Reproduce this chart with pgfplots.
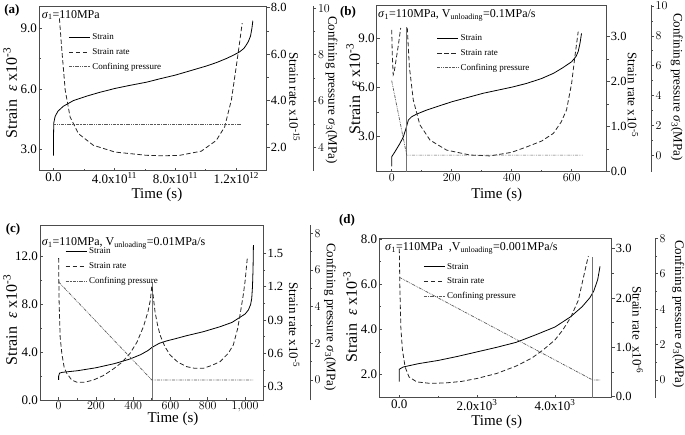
\documentclass[border=0pt]{standalone}
\usepackage{fontspec}
\setmainfont{Liberation Serif}
\usepackage{pgfplots}
\pgfplotsset{compat=1.18}
\newcommand\fs[1]{\fontsize{#1}{#1}\selectfont}
\definecolor{axc}{gray}{0.3}
\newcommand\strainlab{Strain\ \ \textit{ε}\ x10\textsuperscript{-3}}
\pgfplotsset{
  base/.style={scale only axis, anchor=south west,
    axis line style={axc, line width=0.9pt},
    tick style={axc, line width=0.7pt},
    major tick length=3pt, minor tick length=1.8pt,
    tick label style={font=\fs{13}},
    label style={font=\fs{15}},
  },
  strainstyle/.style={black, solid, line width=0.8pt},
  ratestyle/.style={black!85, dash pattern=on 4.5pt off 2.5pt, line width=0.8pt},
  confstyle/.style={black!65, dash pattern=on 3pt off 1pt on 0.7pt off 1pt on 0.7pt off 1pt, line width=0.7pt},
  vstyle/.style={black!55, line width=0.5pt},
  mainax/.style={base, tick align=inside, xtick pos=left, ytick pos=left,
    minor x tick num=1, minor y tick num=1,
    xticklabel style={inner ysep=2pt},
    yticklabel style={inner xsep=2pt},
    legend style={draw=none, fill=none, font=\fs{9}, anchor=north west, inner sep=0pt, row sep=3.2pt},
    legend cell align=left,
    legend image code/.code={\draw[##1] (0pt,0pt) -- (21pt,0pt);},
    xlabel style={anchor=center}, ylabel style={anchor=center, font=\fs{16}}},
  rateax/.style={base, axis y line*=right, axis x line=none, xtick=\empty, tick align=outside, minor y tick num=1,
    yticklabel style={inner xsep=1pt, font=\fs{12.5}},
    ylabel style={rotate=180, anchor=center, font=\fs{13}}},
  confdata/.style={base, hide axis},
  confax/.style={base, axis y line*=right, axis x line=none, xtick=\empty, xmin=0, xmax=1, tick align=outside, minor y tick num=1,
    yticklabel style={inner xsep=1.5pt, font=\fs{12.5}},
    ylabel style={rotate=180, anchor=center, font=\fs{13}}},
}
\begin{document}
\begin{tikzpicture}
\useasboundingbox (0,0) rectangle (685pt,434pt);
% ================= (a) =================
\begin{axis}[mainax, at={(39pt,263.3pt)}, width=227.7pt, height=164.7pt,
  xmin=-0.95, xmax=14, ymin=1.95, ymax=10.1,
  xtick={0,4,8,12}, xticklabels={0.0,{4.0x10\textsuperscript{11}},{8.0x10\textsuperscript{11}},{1.2x10\textsuperscript{12}}},
  ytick={3,6,9}, yticklabels={3.0,6.0,9.0},
  xlabel={Time (s)}, ylabel={\strainlab},
  xlabel style={at={(axis description cs:0.518,-0.148)}},
  ylabel style={at={(axis description cs:-0.127,0.472)}},
  legend style={at={(axis description cs:0.129,0.846)}}]
\addplot[strainstyle] coordinates {(0,2.69) (0,3.5) (0.02,4.31) (0.11,4.64) (0.3,4.9) (0.65,5.14) (1.31,5.42) (2.18,5.64) (3.0,5.82) (4.04,6.02) (5.0,6.17) (6.11,6.33) (7.0,6.5) (8.0,6.68) (9.0,6.9) (10.04,7.13) (10.7,7.3) (11.35,7.5) (11.8,7.66) (12.22,7.83) (12.5,8.0) (12.65,8.16) (12.8,8.35) (12.94,8.62) (13.03,9.0) (13.09,9.37)};
\addlegendentry{Strain}
\addlegendimage{ratestyle}\addlegendentry{Strain rate}
\addlegendimage{confstyle}\addlegendentry{Confining pressure}
\end{axis}
\begin{axis}[rateax, at={(39pt,263.3pt)}, width=227.7pt, height=164.7pt,
  xmin=-0.95, xmax=14, ymin=1.0, ymax=8.07,
  ytick={2,4,6,8}, yticklabels={2.0,4.0,6.0,8.0},
  ylabel={Strain rate x10\textsuperscript{-15}},
  ylabel style={at={(axis description cs:1.122,0.447)}}]
\addplot[ratestyle] coordinates {(0.39,7.54) (0.55,6.18) (0.77,4.46) (1.09,3.31) (1.64,2.59) (2.62,2.09) (4.04,1.80) (6.11,1.66) (7.2,1.64) (8.29,1.66) (9.71,1.84) (10.69,2.30) (11.24,2.88) (11.68,4.03) (12.0,5.47) (12.2,6.4) (12.39,7.33)};
\end{axis}
\begin{axis}[confdata, at={(39pt,263.3pt)}, width=227.7pt, height=164.7pt,
  xmin=-0.95, xmax=14, ymin=3.0, ymax=10.1]
\addplot[confstyle] coordinates {(0,5) (12.39,5)};
\end{axis}
\begin{axis}[confax, at={(85.6pt,263.3pt)}, width=227.7pt, height=164.7pt,
  ymin=3.0, ymax=10.1, ytick={4,6,8,10},
  ylabel={Confining pressure \textit{σ}\textsubscript{3}(MPa)},
  ylabel style={at={(axis description cs:1.08,0.49)}}]
\end{axis}
% ================= (b) =================
\begin{axis}[mainax, at={(376.7pt,262.3pt)}, width=230pt, height=166.7pt,
  xmin=-50, xmax=717, ymin=0.87, ymax=11.03,
  xtick={0,200,400,600},
  ytick={3,6,9}, yticklabels={3.0,6.0,9.0},
  xlabel={Time (s)}, ylabel={\strainlab},
  xlabel style={at={(axis description cs:0.522,-0.14)}},
  ylabel style={at={(axis description cs:-0.102,0.496)}},
  legend style={at={(axis description cs:0.261,0.836)}}]
\addplot[strainstyle] coordinates {(0,1.2) (0,1.78) (11,2.09) (27.7,2.6) (38.9,3.0) (47.8,3.51) (55.6,4.02) (66.7,4.22) (83,4.38) (117,4.63) (200,5.13) (305,5.65) (400,6.02) (450,6.25) (500,6.55) (540,6.87) (570,7.2) (600,7.57) (615,7.9) (622,8.2) (628,8.7) (633,9.3)};
\addlegendentry{Strain}
\addlegendimage{ratestyle}\addlegendentry{Strain rate}
\addlegendimage{confstyle}\addlegendentry{Confining pressure}
\addplot[vstyle, forget plot] coordinates {(50,0.87) (50,9.7)};
\end{axis}
\begin{axis}[rateax, at={(376.7pt,262.3pt)}, width=230pt, height=166.7pt,
  xmin=-50, xmax=717, ymin=0, ymax=3.7,
  ytick={0,1,2,3}, yticklabels={0.0,1.0,2.0,3.0},
  ylabel={Strain rate x10\textsuperscript{-5}},
  ylabel style={at={(axis description cs:1.114,0.46)}}]
\addplot[ratestyle] coordinates {(0,3.15) (2,2.6) (5,2.15) (8,2.2) (15,2.5) (22,2.8) (30,3.19)};
\addplot[ratestyle] coordinates {(52,3.19) (58.9,2.33) (72,1.59) (94,1.04) (128,0.70) (183,0.48) (261,0.37) (328,0.35) (400,0.43) (450,0.55) (500,0.68) (539,0.85) (565,1.1) (583,1.37) (600,1.96) (611,2.56) (622,3.11)};
\end{axis}
\begin{axis}[confdata, at={(376.7pt,262.3pt)}, width=230pt, height=166.7pt,
  xmin=-50, xmax=717, ymin=-1.11, ymax=10.07]
\addplot[confstyle] coordinates {(0,5) (50,0) (637,0)};
\end{axis}
\begin{axis}[confax, at={(421pt,262.3pt)}, width=230pt, height=166.7pt,
  ymin=-1.11, ymax=10.07, ytick={0,2,4,6,8,10},
  ylabel={Confining pressure \textit{σ}\textsubscript{3}(MPa)},
  ylabel style={at={(axis description cs:1.112,0.508)}}]
\end{axis}
% ================= (c) =================
\begin{axis}[mainax, at={(40pt,34pt)}, width=223.3pt, height=175pt,
  xmin=-100, xmax=1098, ymin=0, ymax=14.66,
  xtick={0,200,400,600,800,1000},
  ytick={0,4,8,12}, yticklabels={0.0,4.0,8.0,12.0},
  xlabel={Time (s)}, ylabel={\strainlab},
  xlabel style={at={(axis description cs:0.596,-0.108)}},
  ylabel style={at={(axis description cs:-0.134,0.457)}},
  legend style={at={(axis description cs:0.112,0.883)}}]
\addplot[strainstyle] coordinates {(0,1.68) (0,2.0) (5,2.25) (20,2.32) (100,2.45) (200,2.7) (300,3.05) (380,3.42) (440,3.8) (480,4.15) (500,4.4) (540,4.75) (580,4.95) (630,5.15) (687,5.39) (776,5.72) (866,6.14) (930,6.5) (964,6.84) (1000,7.2) (1018,7.54) (1030,8.0) (1036,8.52) (1040,9.5) (1043,11) (1045,12.98)};
\addlegendentry{Strain}
\addlegendimage{ratestyle}\addlegendentry{Strain rate}
\addlegendimage{confstyle}\addlegendentry{Confining pressure}
\addplot[vstyle, forget plot] coordinates {(500,0) (500,9.9)};
\end{axis}
\begin{axis}[rateax, at={(40pt,34pt)}, width=223.3pt, height=175pt,
  xmin=-100, xmax=1098, ymin=0.18, ymax=1.755,
  ytick={0.3,0.6,0.9,1.2,1.5}, yticklabels={0.3,0.6,0.9,1.2,1.5},
  ylabel={Strain rate x10\textsuperscript{-5}},
  ylabel style={at={(axis description cs:1.138,0.429)}}]
\addplot[ratestyle] coordinates {(0,1.456) (2,1.096) (8,0.75) (17,0.6) (30,0.47) (44,0.42) (70,0.36) (98,0.34) (140,0.34) (187,0.36) (240,0.4) (294,0.46) (340,0.52) (383,0.6) (420,0.7) (455,0.84) (480,0.98) (492,1.08) (500,1.21) (505,1.15) (517,0.975) (530,0.86) (544,0.765) (570,0.66) (598,0.585) (640,0.52) (687,0.48) (730,0.465) (776,0.465) (820,0.49) (866,0.525) (910,0.6) (937,0.675) (960,0.82) (973,0.945) (990,1.12) (1000,1.245) (1012,1.455)};
\end{axis}
\begin{axis}[confdata, at={(40pt,34pt)}, width=223.3pt, height=175pt,
  xmin=-100, xmax=1098, ymin=-1.09, ymax=8.46]
\addplot[confstyle] coordinates {(0,5.35) (500,0) (1045,0)};
\end{axis}
\begin{axis}[confax, at={(86.7pt,34pt)}, width=223.3pt, height=175pt,
  ymin=-1.09, ymax=8.46, ytick={0,2,4,6,8},
  ylabel={Confining pressure \textit{σ}\textsubscript{3}(MPa)},
  ylabel style={at={(axis description cs:1.09,0.474)}}]
\end{axis}
% ================= (d) =================
\begin{axis}[mainax, at={(379.3pt,36.3pt)}, width=232.4pt, height=159.4pt,
  xmin=-514, xmax=5460, ymin=0.97, ymax=8.03,
  xtick={0,2000,4000}, xticklabels={0.0,{2.0x10\textsuperscript{3}},{4.0x10\textsuperscript{3}}},
  ytick={2,4,6,8}, yticklabels={2.0,4.0,6.0,8.0},
  xlabel={Time (s)}, ylabel={\strainlab},
  xlabel style={at={(axis description cs:0.505,-0.15)}},
  ylabel style={at={(axis description cs:-0.126,0.506)}},
  legend style={at={(axis description cs:0.189,0.858)}}]
\addplot[strainstyle] coordinates {(0,1.68) (0,2.23) (100,2.33) (500,2.48) (1000,2.62) (1500,2.8) (2000,3.0) (2500,3.2) (3000,3.42) (3500,3.75) (4000,4.1) (4400,4.55) (4700,5.0) (4900,5.4) (5000,5.7) (5100,6.2) (5160,6.79)};
\addlegendentry{Strain}
\addlegendimage{ratestyle}\addlegendentry{Strain rate}
\addlegendimage{confstyle}\addlegendentry{Confining pressure}
\addplot[vstyle, forget plot] coordinates {(4970,0.97) (4970,7.2)};
\end{axis}
\begin{axis}[rateax, at={(379.3pt,36.3pt)}, width=232.4pt, height=159.4pt,
  xmin=-514, xmax=5460, ymin=-0.02, ymax=3.21,
  ytick={0,1,2,3}, yticklabels={0.0,1.0,2.0,3.0},
  ylabel={Strain rate \ x10\textsuperscript{-6}},
  ylabel style={at={(axis description cs:1.112,0.425)}}]
\addplot[ratestyle] coordinates {(0,3.0) (15,2.2) (40,1.4) (80,0.95) (150,0.6) (250,0.4) (450,0.3) (800,0.27) (1200,0.28) (1600,0.31) (2000,0.37) (2500,0.47) (3000,0.62) (3400,0.78) (3700,0.95) (4000,1.15) (4200,1.35) (4400,1.6) (4600,1.95) (4700,2.3) (4800,2.65) (4860,2.85)};
\end{axis}
\begin{axis}[confdata, at={(379.3pt,36.3pt)}, width=232.4pt, height=159.4pt,
  xmin=-514, xmax=5460, ymin=-1, ymax=8]
\addplot[confstyle] coordinates {(0,5.8) (4970,0) (5160,0)};
\end{axis}
\begin{axis}[confax, at={(422.6pt,36.3pt)}, width=232.4pt, height=159.4pt,
  ymin=-1, ymax=8, ytick={0,2,4,6,8},
  ylabel={Confining pressure \textit{σ}\textsubscript{3}(MPa)},
  ylabel style={at={(axis description cs:1.1,0.525)}}]
\end{axis}
% titles and panel labels
\node[anchor=west, font=\fs{12}, inner sep=0pt] at (41.7pt,419pt) {\textit{σ}\textsubscript{1}=110MPa};
\node[anchor=west, font=\fs{12}, inner sep=0pt] at (378pt,419pt) {\textit{σ}\textsubscript{1}=110MPa, V\textsubscript{unloading}=0.1MPa/s};
\node[anchor=west, font=\fs{12}, inner sep=0pt] at (41.7pt,190.7pt) {\textit{σ}\textsubscript{1}=110MPa, V\textsubscript{unloading}=0.01MPa/s};
\node[anchor=west, font=\fs{12}, inner sep=0pt] at (385pt,185.7pt) {\textit{σ}\textsubscript{1}=110MPa\ \ ,V\textsubscript{unloading}=0.001MPa/s};
\node[font=\bfseries\fs{13}, inner sep=0pt] at (12pt,424pt) {(a)};
\node[font=\bfseries\fs{13}, inner sep=0pt] at (348pt,422pt) {(b)};
\node[font=\bfseries\fs{13}, inner sep=0pt] at (13pt,205pt) {(c)};
\node[font=\bfseries\fs{13}, inner sep=0pt] at (347pt,214pt) {(d)};
\end{tikzpicture}
\end{document}
